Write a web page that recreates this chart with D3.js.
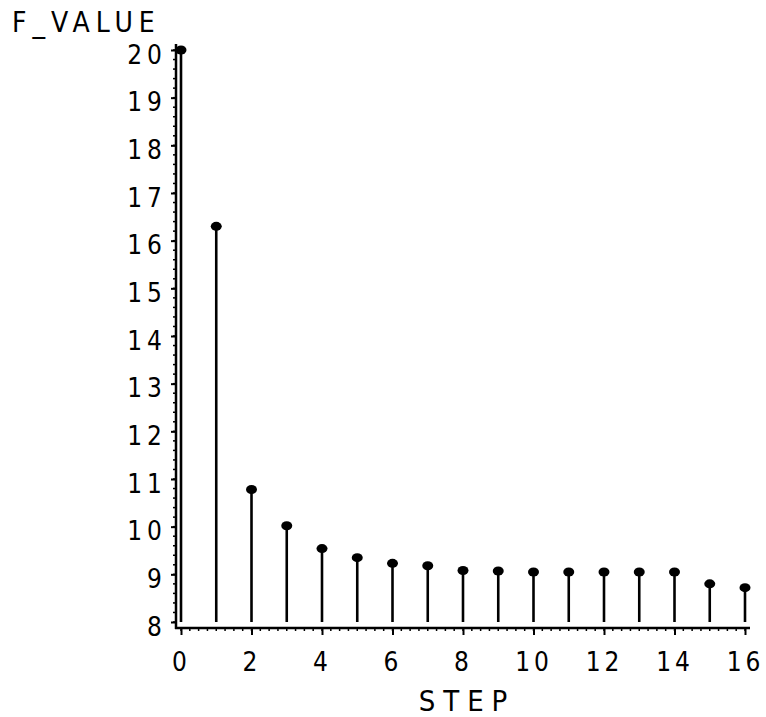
<!DOCTYPE html>
<html>
<head>
<meta charset="utf-8">
<script src="https://cdn.jsdelivr.net/npm/d3@7"></script>
<style>
  body { margin: 0; background: #fff; }
  text { font-family: "DejaVu Sans Condensed", "DejaVu Sans", sans-serif; font-stretch: condensed; fill: #000; }
</style>
</head>
<body>
<svg id="chart" width="766" height="717"></svg>
<script>
// data
var steps = [0, 1, 2, 3, 4, 5, 6, 7, 8, 9, 10, 11, 12, 13, 14, 15, 16];
var fValues = [20, 16.3, 10.78, 10.02, 9.54, 9.35, 9.23, 9.18, 9.08, 9.07, 9.05, 9.05, 9.05, 9.05, 9.05, 8.8, 8.72];
var xTicks = [0, 2, 4, 6, 8, 10, 12, 14, 16];
var yTicks = [8, 9, 10, 11, 12, 13, 14, 15, 16, 17, 18, 19, 20];

var svg = d3.select("#chart");

var x = d3.scaleLinear().domain([0, 16]).range([181, 745]);
var y = d3.scaleLinear().domain([8, 20]).range([622, 50]);

var axisX = 176, axisY = 628;

// minor ticks
var yMinor = d3.range(8, 20.001, 0.2);
svg.append("g").selectAll("line").data(yMinor).enter().append("line")
  .attr("x1", axisX - 3).attr("x2", axisX)
  .attr("y1", function (d) { return y(d); }).attr("y2", function (d) { return y(d); })
  .attr("stroke", "#000").attr("stroke-width", 1.5);

var xMinor = d3.range(0, 16.001, 0.25);
svg.append("g").selectAll("line").data(xMinor).enter().append("line")
  .attr("x1", function (d) { return x(d); }).attr("x2", function (d) { return x(d); })
  .attr("y1", axisY).attr("y2", axisY + 3)
  .attr("stroke", "#000").attr("stroke-width", 1.5);

// y axis
var gy = svg.append("g")
  .attr("transform", "translate(" + axisX + ",0)")
  .call(d3.axisLeft(y).tickValues(yTicks).tickSize(5).tickPadding(9).tickFormat(d3.format("d")));
gy.select(".domain").remove();
gy.selectAll(".tick line").attr("stroke-width", 2);
gy.selectAll(".tick text")
  .attr("font-size", 26)
  .attr("letter-spacing", 5)
  .attr("dx", 5)
  .attr("dy", "0.5em");

// x axis
var gx = svg.append("g")
  .attr("transform", "translate(0," + axisY + ")")
  .call(d3.axisBottom(x).tickValues(xTicks).tickSize(7).tickPadding(18).tickFormat(d3.format("d")));
gx.select(".domain").remove();
gx.selectAll(".tick line").attr("stroke-width", 2);
gx.selectAll(".tick text")
  .attr("font-size", 26)
  .attr("letter-spacing", 4)
  .attr("dx", 0)
  .attr("dy", "0.7em");

// axis lines
svg.append("line").attr("x1", axisX).attr("x2", axisX).attr("y1", 44).attr("y2", axisY + 1)
  .attr("stroke", "#000").attr("stroke-width", 2.5);
svg.append("line").attr("x1", axisX - 1).attr("x2", 750).attr("y1", axisY).attr("y2", axisY)
  .attr("stroke", "#000").attr("stroke-width", 2.5);

// needles
var pts = steps.map(function (s, i) { return { step: s, val: fValues[i] }; });
svg.append("g").selectAll("line").data(pts).enter().append("line")
  .attr("x1", function (d) { return x(d.step); })
  .attr("x2", function (d) { return x(d.step); })
  .attr("y1", y(8))
  .attr("y2", function (d) { return y(d.val); })
  .attr("stroke", "#000").attr("stroke-width", 2.6);

svg.append("g").selectAll("ellipse").data(pts).enter().append("ellipse")
  .attr("cx", function (d) { return x(d.step); })
  .attr("cy", function (d) { return y(d.val); })
  .attr("rx", 5.5).attr("ry", 4.5)
  .attr("fill", "#000");

// titles
svg.append("text").attr("x", 12).attr("y", 32)
  .attr("font-size", 28).attr("letter-spacing", 6)
  .text("F_VALUE");

svg.append("text").attr("x", 463 + 4).attr("y", 711)
  .attr("text-anchor", "middle")
  .attr("font-size", 29).attr("letter-spacing", 8)
  .text("STEP");
</script>
</body>
</html>
